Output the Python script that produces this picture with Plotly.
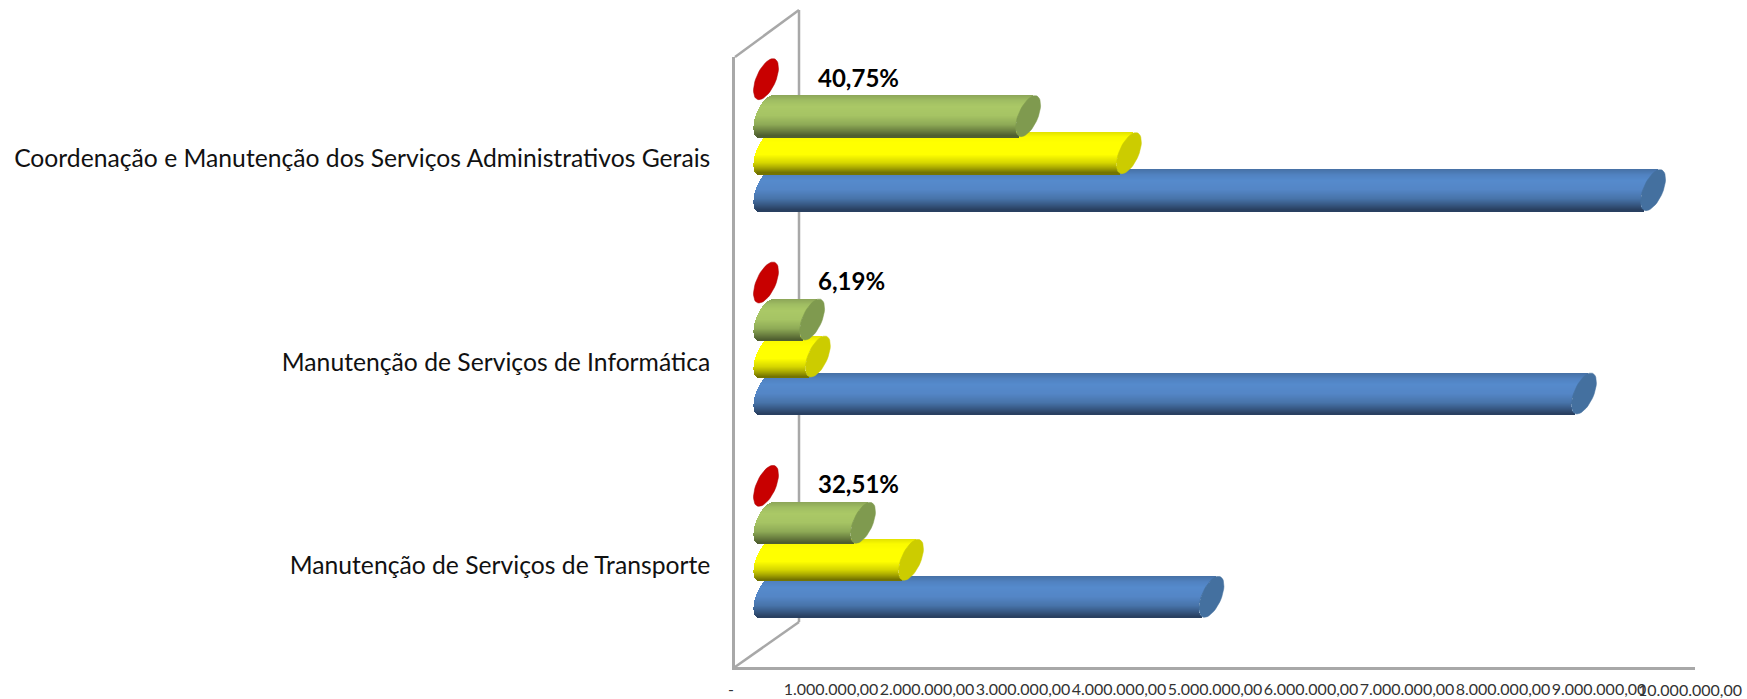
import math
import plotly.graph_objects as go

categories = ["Manutenção de Serviços de Transporte",
              "Manutenção de Serviços de Informática",
              "Coordenação e Manutenção dos Serviços Administrativos Gerais"]
blue_values = [4640000, 8520000, 9240000]
yellow_values = [1510000, 540000, 3780000]
green_values = [1010000, 480000, 2730000]
red_values = [0, 0, 0]
percent_labels = ["32,51%", "6,19%", "40,75%"]
tick_values = [0, 1e6, 2e6, 3e6, 4e6, 5e6, 6e6, 7e6, 8e6, 9e6]
tick_labels = ["-\u00a0\u00a0", "1.000.000,00", "2.000.000,00", "3.000.000,00", "4.000.000,00",
               "5.000.000,00", "6.000.000,00", "7.000.000,00", "8.000.000,00", "9.000.000,00"]
last_tick_value = 10e6
last_tick_label = "10.000.000,00"

W, H = 1747, 699
ML, MR, MT, MB = 735, 52, 57, 32
X_PER_PX = 10e6 / (W - ML - MR)
Y_PER_PX = 3.0 / (H - MT - MB)
DEPTH = 31 * X_PER_PX          # 3D depth shift of the bar row from the front wall
RY, RX, SKEW = 20.5, 10.4, 7.0  # cylinder end ellipse, pixels

def ramp(stops, t):
    for (t0, c0), (t1, c1) in zip(stops, stops[1:]):
        if t <= t1:
            f = (t - t0) / (t1 - t0)
            return "rgb(%d,%d,%d)" % tuple(round(a + (b - a) * f) for a, b in zip(c0, c1))
    return "rgb(%d,%d,%d)" % stops[-1][1]

blue_ramp = [(0, (70, 112, 165)), (.14, (80, 130, 192)), (.28, (85, 138, 204)), (.5, (84, 134, 198)),
             (.72, (72, 116, 170)), (.86, (56, 90, 134)), (1, (40, 62, 94))]
yellow_ramp = [(0, (225, 225, 0)), (.12, (250, 250, 0)), (.25, (255, 255, 0)), (.55, (255, 255, 0)),
               (.75, (214, 214, 0)), (.88, (165, 165, 0)), (1, (110, 110, 0))]
green_ramp = [(0, (140, 165, 88)), (.14, (160, 190, 98)), (.28, (170, 200, 102)), (.5, (166, 196, 100)),
              (.72, (142, 170, 86)), (.86, (110, 132, 66)), (1, (76, 92, 46))]

series = [
    ("Blue", blue_values, blue_ramp, "#44709f", 31.5),
    ("Yellow", yellow_values, yellow_ramp, "#cccc00", -5.5),
    ("Green", green_values, green_ramp, "#7f9a4f", -42.5),
]
RED_SHIFT = -79.5

def ellipse(cx, cy):
    xs, ys = [], []
    for i in range(49):
        a = 2 * math.pi * i / 48
        s = math.sin(a)
        xs.append(cx + (RX * math.cos(a) + SKEW * s) * X_PER_PX)
        ys.append(cy + RY * s * Y_PER_PX)
    return xs, ys

fig = go.Figure()
STRIPS = 41
for name, values, stops, cap_color, shift in series:
    for j in range(STRIPS):
        t = (j + .5) / STRIPS                 # 0 = top of cylinder, 1 = bottom
        u = 1 - 2 * t                         # +1 top, -1 bottom
        left = SKEW * u - RX * math.sqrt(max(0, 1 - u * u))
        centre_px = shift + (t - .5) * 2 * RY
        fig.add_trace(go.Bar(
            x=values, y=[0, 1, 2], base=DEPTH + left * X_PER_PX, orientation="h",
            width=(2 * RY / STRIPS + .8) * Y_PER_PX,
            offset=(-centre_px - (RY / STRIPS + .4)) * Y_PER_PX,
            marker=dict(color=ramp(stops, t), line=dict(width=0)),
            showlegend=False, hoverinfo="skip"))
    cx, cy = [], []
    for k, v in enumerate(values):
        xs, ys = ellipse(DEPTH + v, k - shift * Y_PER_PX)
        cx += xs + [None]
        cy += ys + [None]
    fig.add_trace(go.Scatter(x=cx, y=cy, mode="lines", fill="toself", fillcolor=cap_color,
                             line=dict(width=0.5, color=cap_color), showlegend=False, hoverinfo="skip"))

rx, ry = [], []
for k, v in enumerate(red_values):
    xs, ys = ellipse(DEPTH + v, k - RED_SHIFT * Y_PER_PX)
    rx += xs + [None]
    ry += ys + [None]
fig.add_trace(go.Scatter(x=rx, y=ry, mode="lines", fill="toself", fillcolor="#c80000",
                         line=dict(width=0.5, color="#a80000"), showlegend=False, hoverinfo="skip"))

for k, label in enumerate(percent_labels):
    fig.add_annotation(x=DEPTH + red_values[k], y=k - RED_SHIFT * Y_PER_PX, text="<b>%s</b>" % label,
                       xref="x", yref="y", xanchor="left", yanchor="middle", xshift=50, yshift=2,
                       showarrow=False, font=dict(family="Lato", size=24, color="#000000"))

# The widest tick label does not fit past the axis end, so it sits just inside the page edge
fig.add_annotation(x=last_tick_value, y=0, text=last_tick_label, xref="x", yref="paper",
                   xanchor="right", yanchor="top", xshift=48, yshift=-12, showarrow=False,
                   borderpad=0, font=dict(family="Lato", size=16, color="#333333"))

# 3D wall and floor edges, placed in plot fractions
pw = W - ML - MR
ph = H - MT - MB
def px(x): return (x - ML) / pw
def py(y): return (H - MB - y) / ph
WALL = "#a8a8a8"
for x0, y0, x1, y1 in [(735, 57, 799, 10), (799, 10, 799, 622), (735, 667, 799, 622)]:
    fig.add_shape(type="line", xref="paper", yref="paper", x0=px(x0), y0=py(y0), x1=px(x1), y1=py(y1),
                  line=dict(color=WALL, width=2.5), layer="below")

fig.update_layout(
    width=W, height=H, autosize=False, barmode="overlay", bargap=0,
    margin=dict(l=ML, r=MR, t=MT, b=MB, pad=0),
    paper_bgcolor="white", plot_bgcolor="white", showlegend=False,
    xaxis=dict(range=[0, 10e6], tickvals=tick_values, ticktext=tick_labels, showgrid=False, zeroline=False,
               showline=True, linecolor=WALL, linewidth=2.5, ticks="outside", ticklen=6, tickcolor="rgba(0,0,0,0)",
               tickangle=0, layer="below traces", automargin=False,
               tickfont=dict(family="Lato", size=16, color="#333333")),
    yaxis=dict(range=[-.5, 2.5], tickvals=[0, 1, 2], ticktext=categories, showgrid=False, zeroline=False,
               showline=True, linecolor=WALL, linewidth=2.5, ticks="outside", ticklen=17, tickcolor="rgba(0,0,0,0)",
               layer="below traces", automargin=False,
               tickfont=dict(family="Lato", size=24.7, color="#111111")),
)

fig.write_html("out.html", config={"displayModeBar": False},
               post_script="document.body.style.margin='0';document.body.style.overflow='hidden';")
